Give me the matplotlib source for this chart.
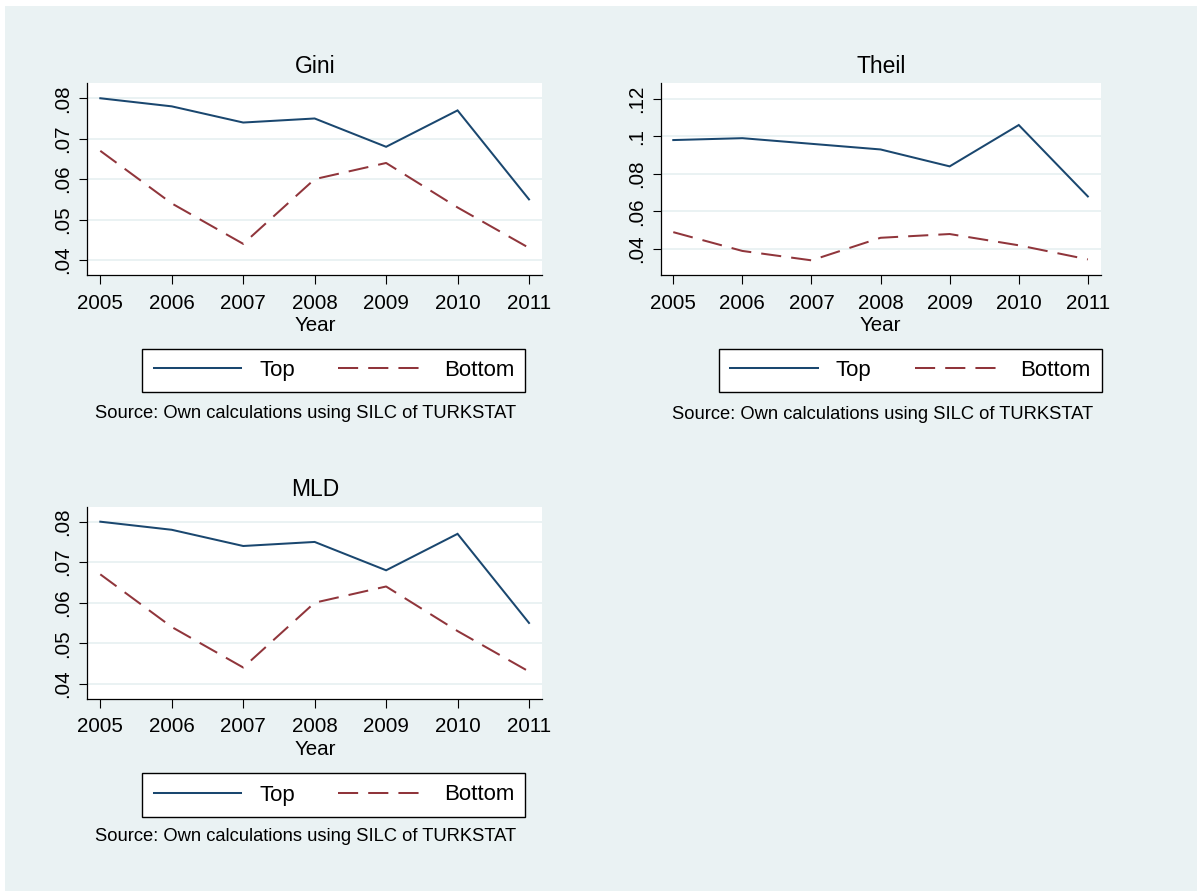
import matplotlib
matplotlib.use("Agg")
import matplotlib.pyplot as plt
from matplotlib.patches import Rectangle
from matplotlib.lines import Line2D

years = [2005, 2006, 2007, 2008, 2009, 2010, 2011]

gini_top = [0.080, 0.078, 0.074, 0.075, 0.068, 0.077, 0.055]
gini_bottom = [0.067, 0.054, 0.044, 0.060, 0.064, 0.053, 0.043]

theil_top = [0.098, 0.099, 0.096, 0.093, 0.084, 0.106, 0.068]
theil_bottom = [0.049, 0.039, 0.034, 0.046, 0.048, 0.042, 0.0345]

mld_top = [0.080, 0.078, 0.074, 0.075, 0.068, 0.077, 0.055]
mld_bottom = [0.067, 0.054, 0.044, 0.060, 0.064, 0.053, 0.043]

gini_ticks = [0.04, 0.05, 0.06, 0.07, 0.08]
gini_ticklabels = [".04", ".05", ".06", ".07", ".08"]
theil_ticks = [0.04, 0.06, 0.08, 0.10, 0.12]
theil_ticklabels = [".04", ".06", ".08", ".1", ".12"]

titles = ["Gini", "Theil", "MLD"]
series_labels = ["Top", "Bottom"]
source_text = "Source: Own calculations using SILC of TURKSTAT"

plt.rcParams['font.family'] = ['Liberation Sans', 'DejaVu Sans']

W, H = 1197, 891
BG = "#EAF2F3"
NAVY = "#1A476F"
MAROON = "#90353B"
FS_TICK = 14.8
FS_TITLE = 16.5
FS_LEG = 16.0
FS_SRC = 13.2

fig = plt.figure(figsize=(W / 100, H / 100), dpi=100)
fig.patch.set_facecolor("white")
fig.add_artist(Rectangle((5 / W, 0), 1 - 5 / W, 1 - 6 / H, transform=fig.transFigure,
                         facecolor=BG, edgecolor="none", zorder=-10))


def px_axes(l, r, t, b):
    return fig.add_axes([l / W, (H - b) / H, (r - l) / W, (b - t) / H])


panels = [
    dict(box=(87.3, 542.3, 83.3, 275), top=gini_top, bot=gini_bottom, ylim=(0.0363, 0.0837),
         ticks=gini_ticks, tl=gini_ticklabels, title=titles[0],
         leg=(142.7, 525, 349.3, 391.7), src=(95, 414)),
    dict(box=(660.7, 1100.7, 83.3, 275), top=theil_top, bot=theil_bottom, ylim=(0.0262, 0.1282),
         ticks=theil_ticks, tl=theil_ticklabels, title=titles[1],
         leg=(719, 1101.7, 349.3, 391.7), src=(671.5, 414.5)),
    dict(box=(87.3, 542.3, 506.7, 698.7), top=mld_top, bot=mld_bottom, ylim=(0.0363, 0.0837),
         ticks=gini_ticks, tl=gini_ticklabels, title=titles[2],
         leg=(142.7, 525, 773.3, 816.7), src=(95, 836.7)),
]

for p in panels:
    ax = px_axes(*p["box"])
    ax.set_facecolor("white")
    ax.plot(years, p["top"], color=NAVY, lw=1.45, solid_joinstyle="miter", zorder=3)
    ax.plot(years, p["bot"], color=MAROON, lw=1.45, dashes=(10, 5), zorder=3)
    ax.set_xlim(2004.818, 2011.186)
    ax.set_ylim(*p["ylim"])
    ax.set_xticks(years)
    ax.set_xticklabels([str(y) for y in years], fontsize=FS_TICK)
    ax.set_yticks(p["ticks"])
    ax.set_yticklabels(p["tl"], fontsize=FS_TICK, rotation=90, va="center")
    ax.tick_params(axis="x", length=6.5, width=0.8, pad=7, colors="black")
    ax.tick_params(axis="y", length=5.8, width=0.8, pad=5, colors="black")
    ax.grid(axis="y", color=BG, lw=1.4, zorder=0)
    ax.set_axisbelow(True)
    for s in ["top", "right"]:
        ax.spines[s].set_visible(False)
    for s in ["left", "bottom"]:
        ax.spines[s].set_linewidth(0.9)
        ax.spines[s].set_color("black")
    ax.set_xlabel("Year", fontsize=FS_TICK, labelpad=2.5)
    ax.set_title(p["title"], fontsize=FS_TITLE, pad=7.5)

    l, r, t, b = p["leg"]
    handles = [Line2D([], [], color=NAVY, lw=1.45),
               Line2D([], [], color=MAROON, lw=1.45, dashes=(10, 5))]
    lg = fig.legend(handles, series_labels, loc="center",
                    bbox_to_anchor=((l + r) / 2 / W, 1 - (t + b) / 2 / H),
                    ncol=2, fontsize=FS_LEG, frameon=True, fancybox=False,
                    edgecolor="black", framealpha=1, handlelength=3.95,
                    handletextpad=0.8, columnspacing=1.95, borderpad=0.5,
                    borderaxespad=0)
    lg.get_frame().set_linewidth(1.0)
    sx, sy = p["src"]
    fig.text(sx / W, 1 - sy / H, source_text, fontsize=FS_SRC, ha="left", va="center")

fig.savefig("out.png", dpi=100, facecolor=fig.get_facecolor())
